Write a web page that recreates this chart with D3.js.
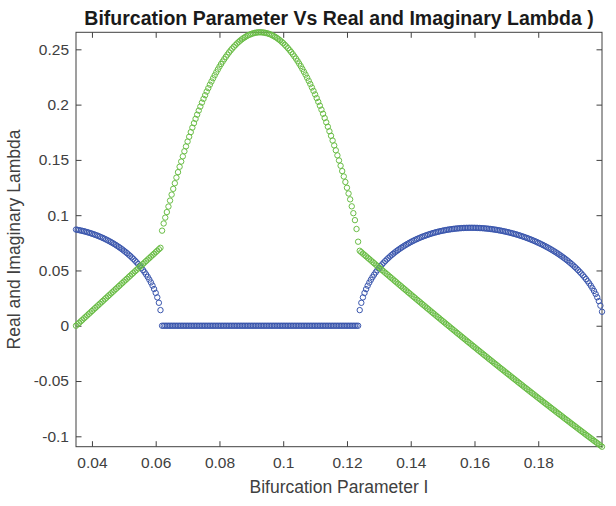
<!DOCTYPE html>
<html>
<head>
<meta charset="utf-8">
<script src="https://cdn.jsdelivr.net/npm/d3@7/dist/d3.min.js"></script>
<style>
  html, body { margin: 0; padding: 0; background: #fff; }
  svg { display: block; font-family: "Liberation Sans", Arial, Helvetica, sans-serif; }
</style>
</head>
<body>
<svg id="chart" width="616" height="506"></svg>
<script>
// Parameter sweep for I: start value and increment of the continuation run
const sweepStart = 0.035;
const sweepStep = 0.0005;

// Real part of lambda (green markers), one value per sweep step
const realLambda = [
  0, 0.00133, 0.00266, 0.00399, 0.00532, 0.00665, 0.00798, 0.00931, 0.01064, 0.01197,
  0.0133, 0.01463, 0.01596, 0.01729, 0.01862, 0.01995, 0.02128, 0.02261, 0.02394, 0.02527,
  0.0266, 0.02793, 0.02926, 0.03059, 0.03192, 0.03325, 0.03458, 0.03591, 0.03724, 0.03857,
  0.0399, 0.04123, 0.04256, 0.04389, 0.04522, 0.04655, 0.04788, 0.04921, 0.05054, 0.05187,
  0.0532, 0.05453, 0.05586, 0.05719, 0.05852, 0.05985, 0.06118, 0.06251, 0.06384, 0.06517,
  0.0665, 0.06783, 0.06916, 0.07049,
  0.0860, 0.0925, 0.0978, 0.1028, 0.1078, 0.1132, 0.1186, 0.1238, 0.1289, 0.1340,
  0.1389, 0.1438, 0.1485, 0.1532, 0.1578, 0.1622, 0.1666, 0.1709, 0.1751, 0.1792,
  0.1832, 0.1871, 0.1909, 0.1946, 0.1982, 0.2018, 0.2052, 0.2085, 0.2118, 0.2149,
  0.2180, 0.2209, 0.2238, 0.2265, 0.2292, 0.2318, 0.2343, 0.2367, 0.2389, 0.2411,
  0.2432, 0.2452, 0.2472, 0.2490, 0.2507, 0.2523, 0.2538, 0.2553, 0.2566, 0.2579,
  0.2590, 0.2601, 0.2610, 0.2619, 0.2627, 0.2633, 0.2639, 0.2644, 0.2648, 0.2651,
  0.2653, 0.2654, 0.2654, 0.2653, 0.2651, 0.2648, 0.2645, 0.2640, 0.2635, 0.2628,
  0.2620, 0.2612, 0.2603, 0.2592, 0.2581, 0.2569, 0.2556, 0.2541, 0.2526, 0.2510,
  0.2493, 0.2475, 0.2456, 0.2436, 0.2416, 0.2394, 0.2371, 0.2348, 0.2323, 0.2297,
  0.2271, 0.2243, 0.2215, 0.2186, 0.2155, 0.2124, 0.2092, 0.2059, 0.2025, 0.1990,
  0.1954, 0.1917, 0.1879, 0.1840, 0.1800, 0.1759, 0.1718, 0.1675, 0.1631, 0.1587,
  0.1541, 0.1495, 0.1447, 0.1399, 0.1350, 0.1300, 0.1248, 0.1196, 0.1143, 0.1080,
  0.1018, 0.0955, 0.0875, 0.0760,
  0.0678, 0.06655, 0.0653, 0.06406, 0.06281, 0.06156, 0.06032, 0.05908, 0.05784, 0.05659,
  0.05536, 0.05412, 0.05288, 0.05164, 0.05041, 0.04917, 0.04794, 0.04671, 0.04548, 0.04425,
  0.04302, 0.04179, 0.04057, 0.03934, 0.03812, 0.0369, 0.03567, 0.03445, 0.03323, 0.03202,
  0.0308, 0.02958, 0.02837, 0.02715, 0.02594, 0.02473, 0.02352, 0.02231, 0.0211, 0.01989,
  0.01869, 0.01748, 0.01628, 0.01507, 0.01387, 0.01267, 0.01147, 0.01027, 0.00908, 0.00788,
  0.00669, 0.00549, 0.0043, 0.00311, 0.00192, 0.00073, -0.00046, -0.00165, -0.00284, -0.00402,
  -0.00521, -0.00639, -0.00757, -0.00875, -0.00993, -0.01111, -0.01229, -0.01346, -0.01464, -0.01581,
  -0.01699, -0.01816, -0.01933, -0.0205, -0.02167, -0.02283, -0.024, -0.02517, -0.02633, -0.02749,
  -0.02865, -0.02982, -0.03098, -0.03213, -0.03329, -0.03445, -0.0356, -0.03676, -0.03791, -0.03906,
  -0.04021, -0.04136, -0.04251, -0.04366, -0.0448, -0.04595, -0.04709, -0.04824, -0.04938, -0.05052,
  -0.05166, -0.0528, -0.05394, -0.05507, -0.05621, -0.05734, -0.05848, -0.05961, -0.06074, -0.06187,
  -0.063, -0.06412, -0.06525, -0.06638, -0.0675, -0.06862, -0.06975, -0.07087, -0.07199, -0.0731,
  -0.07422, -0.07534, -0.07645, -0.07757, -0.07868, -0.07979, -0.0809, -0.08201, -0.08312, -0.08423,
  -0.08534, -0.08644, -0.08755, -0.08865, -0.08975, -0.09085, -0.09195, -0.09305, -0.09415, -0.09525,
  -0.09634, -0.09744, -0.09853, -0.09962, -0.10071, -0.1018, -0.10289, -0.10398, -0.10507, -0.10615,
  -0.10724, -0.10832, -0.1094
];

// Imaginary part of lambda (blue markers), one value per sweep step
const imagLambda = [
  0.0870, 0.08673, 0.08644, 0.08613, 0.08579, 0.08544, 0.08506, 0.08465, 0.08423, 0.08378,
  0.08331, 0.08281, 0.08229, 0.08174, 0.08117, 0.08058, 0.07995, 0.0793, 0.07862, 0.07791,
  0.07718, 0.07641, 0.07561, 0.07478, 0.07392, 0.07302, 0.07209, 0.07112, 0.0701, 0.06906,
  0.06796, 0.06683, 0.06564, 0.06441, 0.06313, 0.06178, 0.06039, 0.05892, 0.05739, 0.05579,
  0.05411, 0.05234, 0.05047, 0.04849, 0.04639, 0.04415, 0.04175, 0.03916, 0.03633, 0.03321,
  0.02971, 0.02566, 0.02076, 0.01414,
  0, 0, 0, 0, 0, 0, 0, 0, 0, 0, 0, 0, 0, 0, 0, 0, 0, 0, 0, 0,
  0, 0, 0, 0, 0, 0, 0, 0, 0, 0, 0, 0, 0, 0, 0, 0, 0, 0, 0, 0,
  0, 0, 0, 0, 0, 0, 0, 0, 0, 0, 0, 0, 0, 0, 0, 0, 0, 0, 0, 0,
  0, 0, 0, 0, 0, 0, 0, 0, 0, 0, 0, 0, 0, 0, 0, 0, 0, 0, 0, 0,
  0, 0, 0, 0, 0, 0, 0, 0, 0, 0, 0, 0, 0, 0, 0, 0, 0, 0, 0, 0,
  0, 0, 0, 0, 0, 0, 0, 0, 0, 0, 0, 0, 0, 0, 0, 0, 0, 0, 0, 0,
  0, 0, 0, 0,
  0.01414, 0.02074, 0.02562, 0.02964, 0.03312, 0.03622, 0.03902, 0.04159, 0.04397, 0.04618,
  0.04826, 0.05021, 0.05205, 0.05379, 0.05545, 0.05703, 0.05853, 0.05996, 0.06134, 0.06265,
  0.06391, 0.06512, 0.06627, 0.06739, 0.06845, 0.06948, 0.07047, 0.07142, 0.07233, 0.07321,
  0.07405, 0.07487, 0.07565, 0.0764, 0.07712, 0.07782, 0.07848, 0.07912, 0.07974, 0.08033,
  0.08089, 0.08144, 0.08195, 0.08245, 0.08292, 0.08338, 0.08381, 0.08422, 0.08461, 0.08498,
  0.08533, 0.08566, 0.08597, 0.08626, 0.08654, 0.08679, 0.08703, 0.08725, 0.08745, 0.08764,
  0.08781, 0.08796, 0.0881, 0.08822, 0.08832, 0.08841, 0.08848, 0.08853, 0.08857, 0.08859,
  0.0886, 0.08859, 0.08857, 0.08853, 0.08848, 0.08841, 0.08833, 0.08823, 0.08811, 0.08798,
  0.08784, 0.08768, 0.08751, 0.08732, 0.08712, 0.0869, 0.08667, 0.08642, 0.08615, 0.08587,
  0.08558, 0.08528, 0.08495, 0.08461, 0.08426, 0.08389, 0.0835, 0.0831, 0.08269, 0.08226,
  0.08181, 0.08134, 0.08086, 0.08036, 0.07985, 0.07932, 0.07877, 0.0782, 0.07762, 0.07701,
  0.07639, 0.07575, 0.07509, 0.07441, 0.07371, 0.07299, 0.07226, 0.07149, 0.07072, 0.06991,
  0.06908, 0.06822, 0.06734, 0.06644, 0.06551, 0.06455, 0.06356, 0.06254, 0.06149, 0.06041,
  0.05929, 0.05814, 0.05695, 0.05572, 0.05444, 0.05311, 0.05173, 0.0503, 0.04881, 0.04725,
  0.04565, 0.04395, 0.04217, 0.04028, 0.0383, 0.03617, 0.0339, 0.03144, 0.02874, 0.02575,
  0.02228, 0.01816, 0.01266
];

const xTicks = [0.04, 0.06, 0.08, 0.1, 0.12, 0.14, 0.16, 0.18];
const yTicks = [-0.1, -0.05, 0, 0.05, 0.1, 0.15, 0.2, 0.25];

const titleText = "Bifurcation Parameter Vs Real and Imaginary Lambda )";
const xLabelText = "Bifurcation Parameter I";
const yLabelText = "Real and Imaginary Lambda";

const bifParam = d3.range(realLambda.length).map(i => +(sweepStart + i * sweepStep).toFixed(4));

const colorImag = "#3a56ad";
const colorReal = "#69bd45";
const axisColor = "#404040";
const textColor = "#404040";

const plot = { left: 76, right: 602, top: 32.3, bottom: 446.7 };

const svg = d3.select("#chart");

const x = d3.scaleLinear()
  .domain(d3.extent(bifParam))
  .range([plot.left, plot.right]);

const yExtent = d3.extent(realLambda.concat(imagLambda));
const y = d3.scaleLinear()
  .domain(yExtent)
  .range([plot.bottom, plot.top]);

const fmt = v => String(+v.toFixed(2));
const tickLen = 5.5;

// bottom axis with labels, ticks pointing into the plot box
const gx = svg.append("g")
  .attr("transform", `translate(0,${plot.bottom})`)
  .call(d3.axisBottom(x).tickValues(xTicks).tickFormat(fmt)
    .tickSizeInner(-tickLen).tickSizeOuter(0).tickPadding(10.5));

// top axis mirrors the ticks without labels
const gxTop = svg.append("g")
  .attr("transform", `translate(0,${plot.top})`)
  .call(d3.axisTop(x).tickValues(xTicks).tickFormat("")
    .tickSizeInner(-tickLen).tickSizeOuter(0));

const gy = svg.append("g")
  .attr("transform", `translate(${plot.left},0)`)
  .call(d3.axisLeft(y).tickValues(yTicks).tickFormat(fmt)
    .tickSizeInner(-tickLen).tickSizeOuter(0).tickPadding(7));

const gyRight = svg.append("g")
  .attr("transform", `translate(${plot.right},0)`)
  .call(d3.axisRight(y).tickValues(yTicks).tickFormat("")
    .tickSizeInner(-tickLen).tickSizeOuter(0));

[gx, gxTop, gy, gyRight].forEach(g => {
  g.select(".domain").remove();
  g.selectAll(".tick line").attr("stroke", axisColor).attr("stroke-width", 1);
  g.selectAll(".tick text")
    .attr("fill", textColor)
    .style("font-size", "15.5px")
    .style("font-family", "'Liberation Sans', Arial, Helvetica, sans-serif");
});

// plot box
svg.append("rect")
  .attr("x", plot.left)
  .attr("y", plot.top)
  .attr("width", plot.right - plot.left)
  .attr("height", plot.bottom - plot.top)
  .attr("fill", "none")
  .attr("stroke", axisColor)
  .attr("stroke-width", 1);

// markers: imaginary part first, real part drawn over it
const markerR = 2.7;

svg.append("g")
  .selectAll("circle")
  .data(imagLambda.map((v, i) => [bifParam[i], v]))
  .join("circle")
  .attr("cx", d => x(d[0]))
  .attr("cy", d => y(d[1]))
  .attr("r", markerR)
  .attr("fill", "none")
  .attr("stroke", colorImag)
  .attr("stroke-width", 1);

svg.append("g")
  .selectAll("circle")
  .data(realLambda.map((v, i) => [bifParam[i], v]))
  .join("circle")
  .attr("cx", d => x(d[0]))
  .attr("cy", d => y(d[1]))
  .attr("r", markerR)
  .attr("fill", "none")
  .attr("stroke", colorReal)
  .attr("stroke-width", 1);

// title and axis labels
svg.append("text")
  .attr("x", (plot.left + plot.right) / 2)
  .attr("y", 24.5)
  .attr("text-anchor", "middle")
  .attr("fill", "#1a1a1a")
  .style("font-size", "19.5px")
  .style("font-weight", "bold")
  .text(titleText);

svg.append("text")
  .attr("x", (plot.left + plot.right) / 2)
  .attr("y", 493)
  .attr("text-anchor", "middle")
  .attr("fill", textColor)
  .style("font-size", "17.5px")
  .text(xLabelText);

svg.append("text")
  .attr("transform", `translate(20,${(plot.top + plot.bottom) / 2}) rotate(-90)`)
  .attr("text-anchor", "middle")
  .attr("fill", textColor)
  .style("font-size", "17.5px")
  .text(yLabelText);
</script>
</body>
</html>
